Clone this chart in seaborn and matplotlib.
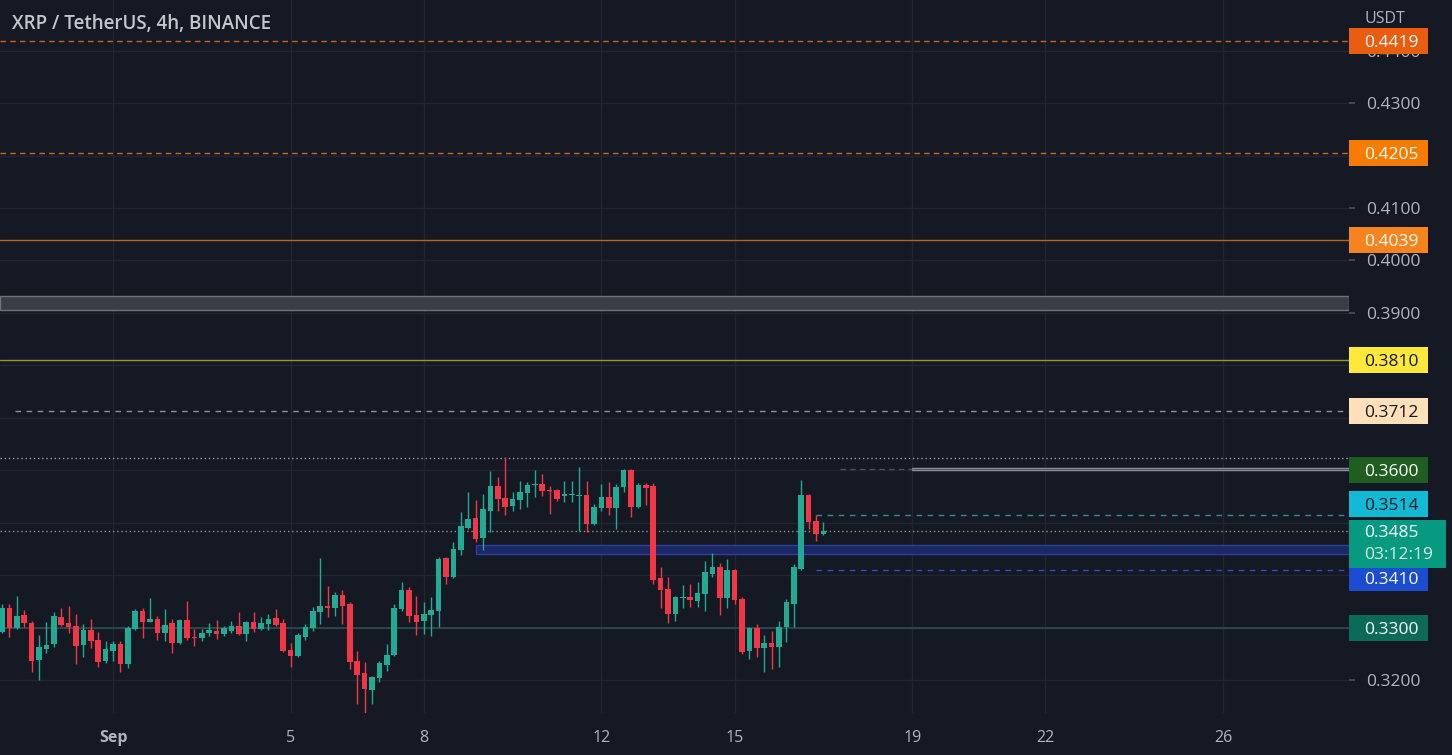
import numpy as np
import pandas as pd
import matplotlib
matplotlib.use("Agg")
import matplotlib.pyplot as plt
import matplotlib.dates as mdates
from matplotlib.patches import Rectangle
from matplotlib.transforms import blended_transform_factory, offset_copy
import seaborn as sns

# ---------------- data (4h candles, XRP/USDT) ----------------
start_time = "2022-08-29 12:00"
opens = [0.3292, 0.3338, 0.3300, 0.3324, 0.3308, 0.3238, 0.3259, 0.3268, 0.3320, 0.3308,
         0.3303, 0.3267, 0.3296, 0.3277, 0.3236, 0.3255, 0.3269, 0.3230, 0.3297, 0.3332,
         0.3310, 0.3317, 0.3290, 0.3308, 0.3271, 0.3315, 0.3282, 0.3281, 0.3289, 0.3294,
         0.3287, 0.3294, 0.3303, 0.3287, 0.3311, 0.3297, 0.3306, 0.3319, 0.3308, 0.3258,
         0.3245, 0.3282, 0.3299, 0.3329, 0.3342, 0.3337, 0.3362, 0.3345, 0.3236, 0.3213,
         0.3181, 0.3203, 0.3229, 0.3247, 0.3335, 0.3371, 0.3323, 0.3312, 0.3323, 0.3332,
         0.3433, 0.3396, 0.3447, 0.3490, 0.3509, 0.3470, 0.3523, 0.3569, 0.3547, 0.3531,
         0.3544, 0.3556, 0.3572, 0.3574, 0.3563, 0.3563, 0.3550, 0.3552, 0.3551, 0.3552,
         0.3497, 0.3528, 0.3549, 0.3528, 0.3568, 0.3600, 0.3530, 0.3571, 0.3570, 0.3394,
         0.3373, 0.3325, 0.3357, 0.3359, 0.3350, 0.3364, 0.3402, 0.3416, 0.3356, 0.3409,
         0.3355, 0.3256, 0.3299, 0.3261, 0.3271, 0.3262, 0.3302, 0.3344, 0.3412, 0.3552,
         0.3503, 0.3479]
highs = [0.3345, 0.3345, 0.3360, 0.3333, 0.3313, 0.3286, 0.3311, 0.3329, 0.3337, 0.3341,
         0.3325, 0.3306, 0.3316, 0.3292, 0.3275, 0.3275, 0.3275, 0.3303, 0.3335, 0.3337,
         0.3356, 0.3322, 0.3335, 0.3316, 0.3316, 0.3351, 0.3297, 0.3297, 0.3308, 0.3314,
         0.3303, 0.3313, 0.3329, 0.3313, 0.3329, 0.3320, 0.3325, 0.3335, 0.3317, 0.3270,
         0.3289, 0.3306, 0.3339, 0.3433, 0.3380, 0.3367, 0.3372, 0.3348, 0.3256, 0.3234,
         0.3207, 0.3237, 0.3269, 0.3344, 0.3386, 0.3378, 0.3361, 0.3348, 0.3358, 0.3435,
         0.3435, 0.3463, 0.3520, 0.3558, 0.3544, 0.3555, 0.3598, 0.3587, 0.3625, 0.3558,
         0.3580, 0.3577, 0.3601, 0.3592, 0.3569, 0.3565, 0.3579, 0.3580, 0.3606, 0.3580,
         0.3536, 0.3574, 0.3577, 0.3574, 0.3603, 0.3603, 0.3575, 0.3575, 0.3575, 0.3415,
         0.3396, 0.3361, 0.3382, 0.3383, 0.3386, 0.3426, 0.3443, 0.3423, 0.3430, 0.3412,
         0.3359, 0.3301, 0.3307, 0.3285, 0.3294, 0.3313, 0.3355, 0.3421, 0.3582, 0.3555,
         0.3514, 0.3501]
lows = [0.3290, 0.3282, 0.3297, 0.3301, 0.3215, 0.3200, 0.3252, 0.3263, 0.3303, 0.3290,
        0.3230, 0.3244, 0.3261, 0.3225, 0.3233, 0.3236, 0.3216, 0.3222, 0.3296, 0.3280,
        0.3310, 0.3276, 0.3275, 0.3252, 0.3268, 0.3276, 0.3264, 0.3275, 0.3284, 0.3279,
        0.3284, 0.3290, 0.3286, 0.3275, 0.3292, 0.3295, 0.3295, 0.3303, 0.3253, 0.3224,
        0.3243, 0.3276, 0.3294, 0.3307, 0.3320, 0.3322, 0.3307, 0.3221, 0.3154, 0.3138,
        0.3154, 0.3196, 0.3217, 0.3245, 0.3332, 0.3310, 0.3285, 0.3288, 0.3284, 0.3301,
        0.3383, 0.3395, 0.3439, 0.3488, 0.3463, 0.3447, 0.3482, 0.3523, 0.3514, 0.3523,
        0.3526, 0.3530, 0.3549, 0.3550, 0.3517, 0.3542, 0.3539, 0.3539, 0.3485, 0.3482,
        0.3495, 0.3523, 0.3514, 0.3488, 0.3558, 0.3511, 0.3528, 0.3533, 0.3383, 0.3338,
        0.3308, 0.3312, 0.3338, 0.3340, 0.3339, 0.3331, 0.3396, 0.3324, 0.3338, 0.3344,
        0.3250, 0.3240, 0.3243, 0.3216, 0.3221, 0.3224, 0.3272, 0.3301, 0.3410, 0.3488,
        0.3465, 0.3477]
closes = [0.3338, 0.3300, 0.3322, 0.3308, 0.3236, 0.3263, 0.3267, 0.3322, 0.3305, 0.3301,
          0.3265, 0.3296, 0.3275, 0.3234, 0.3259, 0.3269, 0.3231, 0.3300, 0.3332, 0.3310,
          0.3317, 0.3290, 0.3305, 0.3271, 0.3315, 0.3280, 0.3281, 0.3290, 0.3295, 0.3287,
          0.3299, 0.3303, 0.3287, 0.3311, 0.3298, 0.3308, 0.3316, 0.3305, 0.3256, 0.3245,
          0.3285, 0.3301, 0.3331, 0.3342, 0.3338, 0.3362, 0.3342, 0.3234, 0.3210, 0.3183,
          0.3205, 0.3233, 0.3248, 0.3337, 0.3371, 0.3322, 0.3311, 0.3325, 0.3334, 0.3431,
          0.3396, 0.3449, 0.3493, 0.3507, 0.3469, 0.3526, 0.3569, 0.3545, 0.3530, 0.3545,
          0.3558, 0.3571, 0.3574, 0.3561, 0.3561, 0.3545, 0.3555, 0.3554, 0.3552, 0.3498,
          0.3530, 0.3549, 0.3528, 0.3568, 0.3600, 0.3530, 0.3571, 0.3566, 0.3391, 0.3372,
          0.3325, 0.3358, 0.3359, 0.3352, 0.3366, 0.3406, 0.3416, 0.3356, 0.3409, 0.3352,
          0.3253, 0.3299, 0.3261, 0.3271, 0.3262, 0.3302, 0.3348, 0.3415, 0.3552, 0.3501,
          0.3479, 0.3485]

tick_dates = ["2022-09-01", "2022-09-05", "2022-09-08", "2022-09-12",
              "2022-09-15", "2022-09-19", "2022-09-22", "2022-09-26"]
tick_labels = ["Sep", "5", "8", "12", "15", "19", "22", "26"]
price_ticks = [0.32, 0.33, 0.34, 0.35, 0.36, 0.37, 0.38, 0.39, 0.40, 0.41, 0.42, 0.43, 0.44]
# price-scale labels that are not covered by a coloured level label
shown_price_labels = [0.32, 0.39, 0.40, 0.41, 0.43, 0.44]

level_prices = [0.4419, 0.4205, 0.4039, 0.3810, 0.3712, 0.3600, 0.3514, 0.3410, 0.3300]
level_box_colors = ["#e85d10", "#f57c00", "#f5841f", "#fde83b", "#ffe0b8",
                    "#1f5e20", "#12bad5", "#1c4ccf", "#0b6a58"]
level_text_colors = ["#ffffff", "#ffffff", "#ffffff", "#131722", "#131722",
                     "#ffffff", "#131722", "#ffffff", "#ffffff"]
level_label_shift_px = [0, 0, 0, 0, 0, 0, 11, -8, 0]

current_price = 0.3485
countdown = "03:12:19"
range_high = 0.3623
gray_zone = (0.3905, 0.3933)
blue_zone = (0.3440, 0.3457)
blue_zone_start = "2022-09-09 04:00"

# ---------------- style ----------------
BG = "#151924"
GRID = "#222633"
TXT = "#b2b5be"
UP = "#22ab94"
DOWN = "#f23645"

sns.set_theme(style="dark", rc={"axes.facecolor": BG, "figure.facecolor": BG})
plt.rcParams["font.family"] = ["Open Sans", "DejaVu Sans"]

W, H = 1452, 755
fig = plt.figure(figsize=(W / 100, H / 100), dpi=100, facecolor=BG)
plot_right, plot_bottom = 1349, 713
ax = fig.add_axes([0, 1 - plot_bottom / H, plot_right / W, plot_bottom / H], facecolor=BG)

df = pd.DataFrame({"open": opens, "high": highs, "low": lows, "close": closes})
df["time"] = pd.date_range(start_time, periods=len(df), freq="4h")
x = mdates.date2num(df["time"])
up = df["close"].values >= df["open"].values
cols = np.where(up, UP, DOWN)

sep1 = mdates.date2num(pd.Timestamp("2022-09-01"))
px_per_day = 44.4
ax.set_xlim(sep1 - 113 / px_per_day, sep1 + (plot_right - 113) / px_per_day)
ax.set_ylim(0.32 - 33 / 5245, 0.32 + 680 / 5245)
x0, x1 = ax.get_xlim()

# grid + axes
ax.set_xticks(mdates.date2num(pd.to_datetime(tick_dates)))
ax.set_xticklabels(tick_labels)
ax.set_yticks(price_ticks)
ax.set_yticklabels([f"{v:.4f}" if any(abs(v - s) < 1e-9 for s in shown_price_labels) else ""
                    for v in price_ticks])
ax.grid(True, color=GRID, lw=1)
ax.yaxis.tick_right()
ax.tick_params(axis="y", length=4, color="#4a4e5a", labelcolor=TXT, labelsize=12.5, pad=8)
ax.tick_params(axis="x", length=0, labelcolor=TXT, labelsize=11.5, pad=12)
for lab in ax.get_xticklabels():
    if lab.get_text() == "Sep":
        lab.set_fontweight("bold")
for s in ax.spines.values():
    s.set_visible(False)

# zones
ax.add_patch(Rectangle((x0, gray_zone[0]), x1 - x0, gray_zone[1] - gray_zone[0],
                       fc="#3a3d45", ec="#6f727a", lw=1, zorder=2))
bz = mdates.date2num(pd.Timestamp(blue_zone_start))
ax.add_patch(Rectangle((bz, blue_zone[0]), x1 - bz, blue_zone[1] - blue_zone[0],
                       fc="#1c2766", ec="#2e3fa0", lw=1, zorder=2))

# horizontal levels
ax.axhline(level_prices[0], color="#c8621f", lw=1, ls=(0, (4, 3)), zorder=2)
ax.axhline(level_prices[1], color="#c86a1f", lw=1, ls=(0, (4, 3)), zorder=2)
ax.axhline(level_prices[2], color="#b8641e", lw=1, zorder=2)
ax.axhline(level_prices[3], color="#9a962e", lw=1, zorder=2)
ax.hlines(level_prices[4], x0 + 15 / px_per_day, x1, color="#8d909a", lw=1, ls=(0, (4, 4)), zorder=2)
ax.axhline(range_high, color="#9ea1aa", lw=1, ls=(0, (1, 2)), zorder=2)
t19 = mdates.date2num(pd.Timestamp("2022-09-19"))
t17 = mdates.date2num(pd.Timestamp("2022-09-17 09:00"))
ax.add_patch(Rectangle((t19, level_prices[5]), x1 - t19, 0.0005, fc="#2a2e39", ec="#8d909a", lw=1, zorder=2))
ax.hlines(level_prices[5] + 0.00025, t17, t19, color="#4a4e5a", lw=1, ls=(0, (4, 3)), zorder=2)
t16 = mdates.date2num(pd.Timestamp("2022-09-16 20:00"))
ax.hlines(level_prices[6], t16, x1, color="#2a8fa5", lw=1, ls=(0, (4, 4)), zorder=2)
ax.hlines(level_prices[7], t16, x1, color="#3050c0", lw=1, ls=(0, (4, 4)), zorder=2)
ax.axhline(level_prices[8], color="#2a4f50", lw=1.2, zorder=2)
ax.axhline(current_price, color="#8f939c", lw=1, ls=(0, (1, 2)), zorder=2)

# candles
body_w = (4 / 24) * 0.74
ax.vlines(x, df["low"], df["high"], colors=cols, lw=1, zorder=5)
bottoms = np.minimum(df["open"], df["close"])
heights = np.maximum(np.abs(df["close"] - df["open"]), 0.00008)
ax.bar(x, heights, bottom=bottoms, width=body_w, color=cols, lw=0, zorder=6)

# price-scale labels
trans = blended_transform_factory(fig.transFigure, ax.transData)
yr = ax.get_ylim()[1] - ax.get_ylim()[0]
box_h = 26 * yr / plot_bottom
bx, bw = plot_right / W, 79 / W
for p, fc, tc, sh in zip(level_prices, level_box_colors, level_text_colors, level_label_shift_px):
    tr = offset_copy(trans, fig=fig, x=0, y=sh, units="dots")
    ax.add_patch(Rectangle((bx, p - box_h / 2), bw, box_h, transform=tr, fc=fc, ec="none",
                           clip_on=False, zorder=20))
    ax.text(1364 / W, p, f"{p:.4f}", transform=tr, ha="left", va="center_baseline",
            color=tc, fontsize=12.5, clip_on=False, zorder=21)

# current price label (two lines)
cp_h = 48 * yr / plot_bottom
ax.add_patch(Rectangle((bx, current_price - cp_h + box_h / 2 - 2 * yr / plot_bottom), 97 / W, cp_h,
                       transform=trans, fc="#089981", ec="none", clip_on=False, zorder=22))
ax.text(1364 / W, current_price, f"{current_price:.4f}", transform=trans, ha="left",
        va="center_baseline", color="#ffffff", fontsize=12.5, clip_on=False, zorder=23)
ax.text(1364 / W, current_price - 22 * yr / plot_bottom, countdown, transform=trans, ha="left",
        va="center_baseline", color="#d6efe9", fontsize=12.5, clip_on=False, zorder=23)

# header texts
fig.text(12 / W, 1 - 24 / H, "XRP / TetherUS, 4h, BINANCE", ha="left", va="center",
         fontsize=13.5, fontweight="semibold", color="#c3c6ce")
fig.text(1365 / W, 1 - 19 / H, "USDT", ha="left", va="center", fontsize=11.5, color=TXT)

fig.savefig("out.png", dpi=100, facecolor=BG)
